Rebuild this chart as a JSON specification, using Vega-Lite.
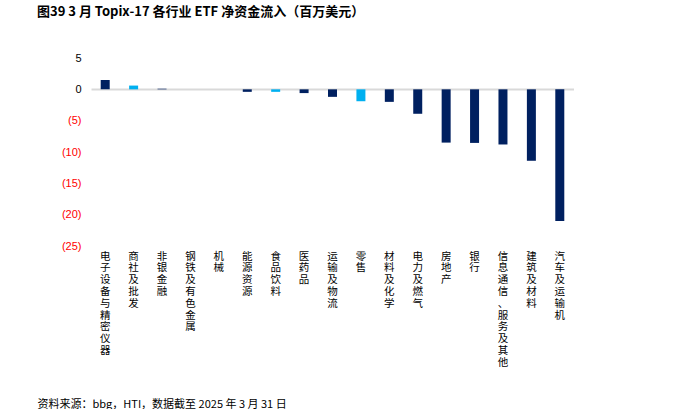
{
  "$schema": "https://vega.github.io/schema/vega-lite/v6.json",
  "width": 483,
  "height": 188,
  "padding": {"left": 37, "top": 6, "right": 0, "bottom": 0},
  "background": "white",
  "title": {
    "text": "图39 3 月 Topix-17 各行业 ETF 净资金流入（百万美元）",
    "anchor": "start",
    "font": "Noto Sans CJK SC",
    "fontSize": 13,
    "fontWeight": "bold",
    "color": "#000000",
    "offset": 33
  },
  "config": {
    "view": {"stroke": null},
    "font": "Noto Sans CJK SC",
    "axis": {"labelOverlap": false}
  },
  "data": {
    "values": [
      {"industry": "电子设备与精密仪器", "flow": 1.5},
      {"industry": "商社及批发", "flow": 0.6},
      {"industry": "非银金融", "flow": 0.1},
      {"industry": "钢铁及有色金属", "flow": 0},
      {"industry": "机械", "flow": 0},
      {"industry": "能源资源", "flow": -0.4},
      {"industry": "食品饮料", "flow": -0.4},
      {"industry": "医药品", "flow": -0.6},
      {"industry": "运输及物流", "flow": -1.2},
      {"industry": "零售", "flow": -1.9},
      {"industry": "材料及化学", "flow": -2.0},
      {"industry": "电力及燃气", "flow": -3.9},
      {"industry": "房地产", "flow": -8.5},
      {"industry": "银行", "flow": -8.55},
      {"industry": "信息通信、服务及其他", "flow": -8.8},
      {"industry": "建筑及材料", "flow": -11.4},
      {"industry": "汽车及运输机", "flow": -21.0}
    ]
  },
  "mark": {"type": "bar", "size": 9},
  "encoding": {
    "x": {
      "field": "industry",
      "type": "nominal",
      "sort": null,
      "scale": {"paddingInner": 0.6, "paddingOuter": 0.3},
      "axis": {
        "title": "资料来源：bbg，HTI，数据截至 2025 年 3 月 31 日",
        "titleFont": "Noto Sans CJK SC",
        "titleFontSize": 11,
        "titleFontWeight": "normal",
        "titleColor": "#000000",
        "titleAlign": "left",
        "titleBaseline": "middle",
        "titleX": -54,
        "titleY": 158,
        "labelAngle": 0,
        "labelAlign": "center",
        "labelBaseline": "top",
        "labelExpr": "split(datum.label, '')",
        "labelLineHeight": 11.8,
        "labelFontSize": 10.5,
        "labelColor": "#000000",
        "labelPadding": 5,
        "labelFont": "Noto Sans CJK SC",
        "labelOverlap": false,
        "ticks": false,
        "domain": false,
        "grid": false
      }
    },
    "y": {
      "field": "flow",
      "type": "quantitative",
      "scale": {"domain": [-25, 5], "nice": false},
      "axis": {
        "title": null,
        "values": [-25, -20, -15, -10, -5, 0, 5],
        "labelExpr": "datum.value < 0 ? '(' + abs(datum.value) + ')' : '' + datum.value",
        "labelColor": {"condition": {"test": "datum.value < 0", "value": "#FF0000"}, "value": "#000000"},
        "labelFont": "Liberation Sans",
        "labelFontSize": 11,
        "labelPadding": 10,
        "labelOverlap": false,
        "ticks": false,
        "domain": false,
        "grid": true,
        "gridColor": {"condition": {"test": "datum.value === 0", "value": "#D9D9D9"}, "value": "transparent"},
        "gridWidth": 2
      }
    },
    "color": {
      "condition": {"test": "indexof(['商社及批发','食品饮料','零售'], datum.industry) >= 0", "value": "#00B0F0"},
      "value": "#002060"
    }
  }
}
